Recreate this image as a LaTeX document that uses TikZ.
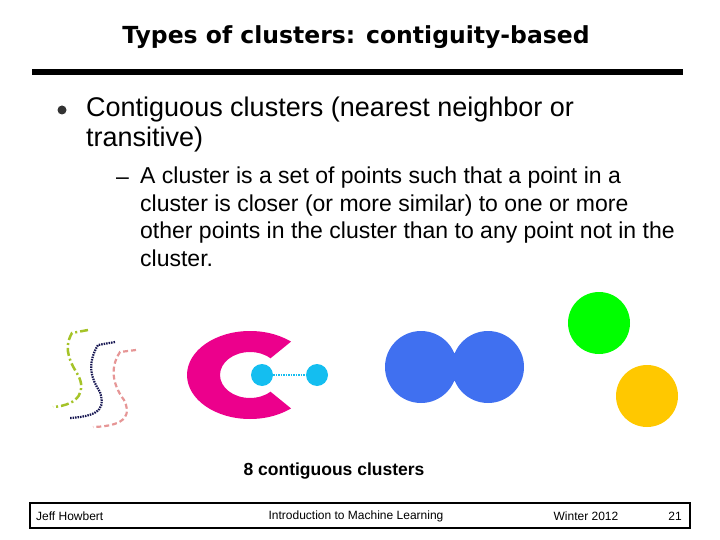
\documentclass[tikz,border=0pt]{standalone}
\usepackage{fontspec}
\setmainfont{Liberation Sans}
\newfontfamily\titlefont{DejaVu Sans}
\definecolor{cblue}{RGB}{64,112,240}
\definecolor{ccyan}{RGB}{20,190,240}
\definecolor{corange}{RGB}{255,200,0}
\definecolor{colive}{RGB}{165,195,40}
\definecolor{cnavy}{RGB}{20,20,80}
\definecolor{cpink}{RGB}{230,150,150}
\begin{document}
\begin{tikzpicture}[x=1pt,y=-1pt,
  body/.style={anchor=north west,align=left,inner sep=0pt,font=\fontsize{27}{30}\selectfont},
  sub/.style={anchor=north west,align=left,inner sep=0pt,font=\fontsize{23}{27.5}\selectfont},
  foot/.style={font=\fontsize{12}{14}\selectfont,inner sep=0pt}]
\useasboundingbox (0,0) rectangle (720,540);
\node[font=\titlefont\bfseries\fontsize{23.5}{28}\selectfont] (title) at (356,37) {Types of clusters: contiguity-based};
\draw[line width=6pt] (32,72) -- (683,72);
\fill[black!80] (62,110) circle (4.5);
\node[body] (b1) at (86,97) {Contiguous clusters (nearest neighbor or\\transitive)};
\node[sub,anchor=base west] (d) at (116,185) {–};
\node[sub] (b2) at (140,167) {A cluster is a set of points such that a point in a\\cluster is closer (or more similar) to one or more\\other points in the cluster than to any point not in the\\cluster.};
% squiggles
\draw[color=colive,line width=2.5pt,dash pattern=on 8pt off 3pt on 2pt off 3pt] (88,330) -- (72,333) .. controls (62,350) and (72,365) .. (78,375) .. controls (86,390) and (80,405) .. (53,407);
\draw[color=cnavy,line width=2.2pt,dash pattern=on 1.5pt off 1pt] (115,342) -- (98,345) .. controls (86,365) and (92,380) .. (100,392) .. controls (104,405) and (104,416) .. (70,418);
\draw[color=cpink,line width=2.2pt,dash pattern=on 5pt off 3pt] (136,350) -- (120,352) .. controls (108,370) and (115,388) .. (124,400) .. controls (130,412) and (130,426) .. (93,427);
% C shape
\begin{scope}
\clip (250,375) -- (320,318) -- (150,300) -- (150,450) -- (320,432) -- cycle;
\fill[magenta,even odd rule] (250,375) ellipse [x radius=63,y radius=44] (250,375) ellipse [x radius=30,y radius=23];
\end{scope}
\node[circle,fill=ccyan,minimum size=22pt,inner sep=0pt] (c1) at (262,375) {};
\node[circle,fill=ccyan,minimum size=22pt,inner sep=0pt] (c2) at (317,375) {};
\draw[ccyan,line width=2.5pt,dash pattern=on 1.5pt off 1pt] (c1) -- (c2);
\fill[cblue] (421,367) circle (36) (488,367) circle (36);
\fill[green] (599,323) circle (31);
\fill[corange] (647,396) circle (31);
\node[font=\bfseries\fontsize{17.5}{20}\selectfont] (cap) at (334,471) {8 contiguous clusters};
\draw[line width=1.2pt] (30,503) rectangle (690,528);
\node[foot,anchor=west] (f1) at (36,516) {Jeff Howbert};
\node[foot] (f2) at (356,516) {Introduction to Machine Learning};
\node[foot] (f3) at (586,516) {Winter 2012};
\node[foot] (f4) at (675,516) {21};
\end{tikzpicture}
\end{document}
